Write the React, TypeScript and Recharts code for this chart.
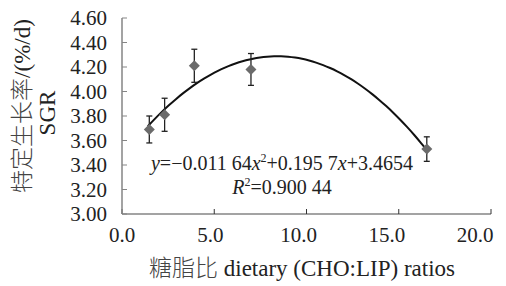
import { ComposedChart, Line, Scatter, ErrorBar, XAxis, YAxis, Customized } from "recharts";

// diet CHO:LIP ratio vs SGR (mean, sd)
const ratios = [1.48, 2.31, 3.92, 6.99, 16.52];
const sgr = [3.69, 3.81, 4.21, 4.18, 3.53];
const sgrSd = [0.11, 0.135, 0.135, 0.13, 0.1];

// fitted trend as printed on the chart
const coefA = -0.01164;
const coefB = 0.1957;
const coefC = 3.4654;
const trendFrom = 1.4;
const trendTo = 16.6;

const xTicks = [0, 5, 10, 15, 20];
const yTicks = [3.0, 3.2, 3.4, 3.6, 3.8, 4.0, 4.2, 4.4, 4.6];

const points = ratios.map((x, i) => ({ x, y: sgr[i], err: sgrSd[i] }));

const trend: { x: number; fit: number }[] = [];
for (let k = 0; k <= 40; k++) {
  const x = trendFrom + ((trendTo - trendFrom) * k) / 40;
  trend.push({ x, fit: coefA * x * x + coefB * x + coefC });
}

const font = "Liberation Serif, DejaVu Serif, serif";
const cjkFont = "Noto Sans CJK SC, sans-serif";

const Diamond = (props: any) => {
  const { cx, cy } = props;
  if (cx == null || cy == null) return null;
  const r = 5.5;
  return (
    <polygon
      points={`${cx},${cy - r} ${cx + r},${cy} ${cx},${cy + r} ${cx - r},${cy}`}
      fill="#6b6b6b"
    />
  );
};

// labels drift left a little, so the last one stays inside the frame
const XTick = (props: any) => {
  const { x, y, payload, index } = props;
  return (
    <text
      x={x - index * 4}
      y={y}
      dy={16}
      textAnchor="middle"
      fill="#222"
      fontSize={21}
      fontFamily={font}
    >
      {Number(payload.value).toFixed(1)}
    </text>
  );
};

const Labels = () => (
  <g fontFamily={font} fill="#222">
    <text x={282} y={170} fontSize={20} textAnchor="middle">
      <tspan fontStyle="italic">y</tspan>
      <tspan>=−0.011 64</tspan>
      <tspan fontStyle="italic">x</tspan>
      <tspan fontSize={12} dy={-8}>2</tspan>
      <tspan dy={8}>+0.195 7</tspan>
      <tspan fontStyle="italic">x</tspan>
      <tspan>+3.4654</tspan>
    </text>
    <text x={282} y={194} fontSize={20} textAnchor="middle">
      <tspan fontStyle="italic">R</tspan>
      <tspan fontSize={12} dy={-8}>2</tspan>
      <tspan dy={8}>=0.900 44</tspan>
    </text>
    <text x={302} y={276} fontSize={23} textAnchor="middle">
      <tspan fontFamily={cjkFont} fontWeight={300} fill="#444">糖脂比</tspan>
      <tspan> dietary (CHO:LIP) ratios</tspan>
    </text>
    <text
      x={30}
      y={106}
      fontSize={23}
      textAnchor="middle"
      transform="rotate(-90 30 106)"
    >
      <tspan fontFamily={cjkFont} fontWeight={300} fill="#444">特定生长率</tspan>
      <tspan>/(%/d)</tspan>
    </text>
    <text
      x={55}
      y={113}
      fontSize={23}
      textAnchor="middle"
      transform="rotate(-90 55 113)"
    >
      SGR
    </text>
  </g>
);

export default function App() {
  return (
    <div style={{ position: "absolute", left: 0, top: 0, background: "#fff" }}>
      <ComposedChart
        width={506}
        height={286}
        margin={{ top: 18, right: 15, left: 72, bottom: 32 }}
      >
        <XAxis
          type="number"
          dataKey="x"
          domain={[0, 20]}
          ticks={xTicks}
          interval={0}
          axisLine={{ stroke: "#858585", strokeWidth: 1.5 }}
          tickLine={{ stroke: "#333" }}
          tickSize={-5}
          tickMargin={17}
          height={40}
          tick={<XTick />}
          allowDataOverflow
        />
        <YAxis
          type="number"
          domain={[3, 4.6]}
          ticks={yTicks}
          interval={0}
          tickFormatter={(v: number) => v.toFixed(2)}
          axisLine={{ stroke: "#858585", strokeWidth: 1.5 }}
          tickLine={{ stroke: "#858585" }}
          tickSize={-5}
          tickMargin={20}
          width={50}
          tick={{ fill: "#222", fontSize: 21, fontFamily: font }}
          allowDataOverflow
        />
        <Line
          data={trend}
          dataKey="fit"
          type="monotone"
          stroke="#111"
          strokeWidth={2}
          dot={false}
          activeDot={false}
          isAnimationActive={false}
        />
        <Scatter
          data={points}
          dataKey="y"
          shape={<Diamond />}
          isAnimationActive={false}
        >
          <ErrorBar dataKey="err" direction="y" width={3} stroke="#222" strokeWidth={1.3} />
        </Scatter>
        <Customized component={Labels} />
      </ComposedChart>
    </div>
  );
}
